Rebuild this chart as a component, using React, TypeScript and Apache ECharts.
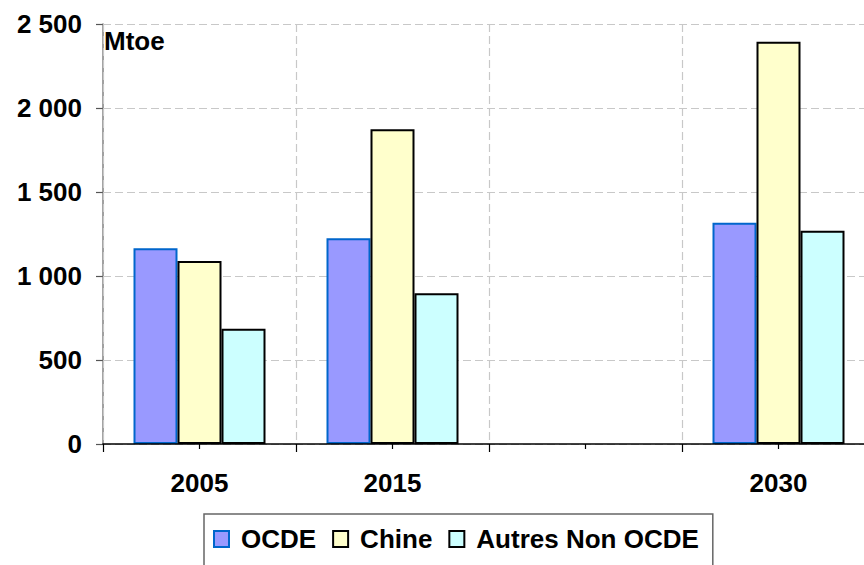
import React, { useEffect, useRef } from "react";
import * as echarts from "echarts";

const categories = ["2005", "2015", "", "2030"];
const ocde = [1165, 1225, null, 1317];
const chine = [1090, 1873, null, 2395];
const autres = [686, 897, null, 1270];
const seriesNames = ["OCDE", "Chine", "Autres Non OCDE"];
const yTicks = { min: 0, max: 2500, interval: 500 };

const FONT = "'Liberation Sans', Arial, sans-serif";

function fmt(v: number): string {
  if (v >= 1000) {
    const t = Math.floor(v / 1000);
    const r = String(v % 1000).padStart(3, "0");
    return `${t} ${r}`;
  }
  return String(v);
}

export default function App() {
  const ref = useRef<HTMLDivElement>(null);
  useEffect(() => {
    if (!ref.current) return;
    const chart = echarts.init(ref.current, null, { renderer: "svg" });
    const labelStyle = { fontFamily: FONT, fontWeight: "bold" as const, fontSize: 26, color: "#000" };
    chart.setOption({
      animation: false,
      backgroundColor: "#fff",
      grid: { left: 103, right: -11, top: 24, bottom: 121, containLabel: false, outerBoundsMode: "none" },
      xAxis: [
        {
          type: "category",
          data: categories,
          boundaryGap: true,
          axisLine: { show: true, lineStyle: { color: "#000", width: 1.5 } },
          axisTick: { show: true, alignWithLabel: false, length: 8, lineStyle: { color: "#000", width: 1.2 } },
          axisLabel: { ...labelStyle, margin: 26, interval: 0 },
          splitLine: { show: true, lineStyle: { color: "#c8c8c8", type: [8, 4], width: 1.2 } },
          z: 3,
        },
        {
          type: "category",
          data: categories,
          position: "bottom",
          boundaryGap: true,
          axisLine: { show: false },
          axisTick: { show: true, alignWithLabel: true, length: 5, lineStyle: { color: "#000", width: 1.2 } },
          axisLabel: { show: false },
          splitLine: { show: false },
        },
      ],
      yAxis: {
        type: "value",
        min: yTicks.min,
        max: yTicks.max,
        interval: yTicks.interval,
        axisLine: { show: true, lineStyle: { color: "#808080", width: 1.5 } },
        axisTick: { show: true, length: 7, lineStyle: { color: "#555", width: 1.2 } },
        axisLabel: { ...labelStyle, margin: 21, formatter: (v: number) => fmt(v) },
        splitLine: { show: true, lineStyle: { color: "#c8c8c8", type: [8, 4], width: 1.2 } },
      },
      legend: {
        show: true,
        left: 204,
        top: 514,
        orient: "horizontal",
        padding: [12, 14, 14, 9],
        borderColor: "#666",
        borderWidth: 1.5,
        itemWidth: 15,
        itemHeight: 16,
        itemGap: 16,
        icon: "rect",
        textStyle: { ...labelStyle, padding: [0, 0, 0, 7] },
        data: seriesNames,
      },
      graphic: [
        {
          type: "text",
          left: 104,
          top: 28,
          style: { text: "Mtoe", font: `bold 26px ${FONT}`, fill: "#000" },
        },
      ],
      series: [
        {
          name: seriesNames[0],
          type: "bar",
          data: ocde,
          barWidth: 44,
          barGap: "0%",
          itemStyle: { color: "#9999FF", borderColor: "#0066CC", borderWidth: 2 },
        },
        {
          name: seriesNames[1],
          type: "bar",
          data: chine,
          barWidth: 44,
          barGap: "0%",
          itemStyle: { color: "#FFFFCC", borderColor: "#000", borderWidth: 2 },
        },
        {
          name: seriesNames[2],
          type: "bar",
          data: autres,
          barWidth: 44,
          barGap: "0%",
          itemStyle: { color: "#CCFFFF", borderColor: "#000", borderWidth: 2 },
        },
      ],
    });
    return () => chart.dispose();
  }, []);
  return <div ref={ref} style={{ width: 864, height: 565, position: "absolute", left: 0, top: 0 }} />;
}
